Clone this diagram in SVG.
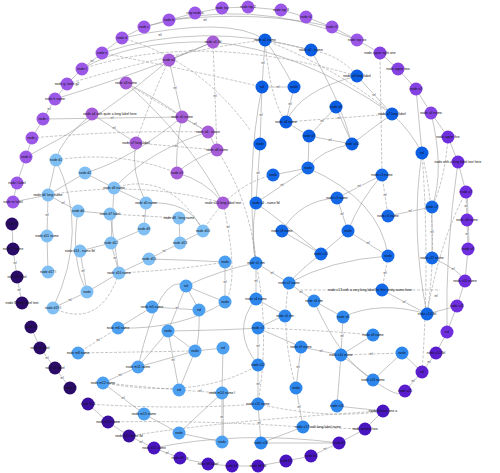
<svg xmlns="http://www.w3.org/2000/svg" width="500" height="473" viewBox="0 0 500 473">
<style>
.e{fill:none;stroke:#8a8a8a;stroke-width:0.5}
.d{fill:none;stroke:#8a8a8a;stroke-width:0.5;stroke-dasharray:3 1.5}
.el{font-family:"Liberation Sans",Arial,sans-serif;font-size:2.8px;fill:#222;text-anchor:middle;stroke:#fff;stroke-width:0.8;paint-order:stroke}
.nl{font-family:"Liberation Sans",Arial,sans-serif;font-size:3.4px;fill:#111;text-anchor:middle}
circle{stroke:none}
.ra{fill:#9b58e8}.rb{fill:#8442e2}.rc{fill:#6e2ede}.rd{fill:#5a1ecf}.rf{fill:#4815c0}.rg{fill:#3a0f9c}.re{fill:#2b0b68}
.oa{fill:#a65dd8}.ba{fill:#0b5de2}.bb{fill:#1468e6}.lb{fill:#80bff3}.mb{fill:#4d9ff0}.mc{fill:#2c86ec}
</style>
<rect width="500" height="473" fill="#fff"/>
<g id="edges">
<path class="e" d="M195,13L169,20L144,27L122,38L102,53L82,69L67,84L55,99L43,119L32,138L26,157L17,183L13,202"/>
<path class="e" d="M195,13L222,8L248,7L281,10L306,17L332,27L357,40L380,53L398,69L416,89L431,113L448,137L458,162L466,192L467,220L468,249L465,281L457,306L447,332L436,353L422,372L405,391"/>
<path class="e" d="M383,411L365,429L339,443L311,456L286,461L258,466L232,466L208,464L180,458L154,448L129,436L108,422L88,404"/>
<path class="e" d="M70,388L55,368L40,348L31,327M22,303L17,277L13,249L12,224"/>
<path class="e" d="M467,220L468,249M466,192L467,220" transform="translate(1.2,0)"/>
<path class="e" d="M102,53Q200,20 311,50"/>
<path class="d" d="M82,69Q200,30 357,76"/>
<path class="e" d="M122,38Q230,15 265,40"/>
<path class="d" d="M67,84Q180,50 265,40"/>
<path class="e" d="M144,27Q250,-5 357,40"/>
<path class="e" d="M169,20Q260,10 332,27"/>
<path class="e" d="M43,119L182,117"/>
<path class="d" d="M32,138Q120,130 208,132"/>
<path class="e" d="M55,99Q150,70 213,42"/>
<path class="e" d="M26,157Q100,120 169,60"/>
<path class="d" d="M102,53Q190,70 262,87"/>
<path class="e" d="M213,42Q300,50 392,114"/>
<path class="d" d="M265,40Q340,70 392,114"/>
<path class="e" d="M82,69Q130,40 213,42"/>
<path class="d" d="M122,38Q200,60 250,130"/>
<path class="d" d="M213,42L217,150"/>
<path class="e" d="M213,42L169,60"/>
<path class="e" d="M169,60L182,117"/>
<path class="d" d="M169,60Q150,100 136,143"/>
<path class="e" d="M126,83Q160,100 182,117"/>
<path class="d" d="M126,83Q170,110 208,132"/>
<path class="e" d="M92,114L136,143"/>
<path class="e" d="M182,117L208,132"/>
<path class="d" d="M136,143L217,150"/>
<path class="e" d="M208,132L217,150"/>
<path class="e" d="M217,150Q190,160 177,173"/>
<path class="e" d="M177,173Q205,180 223,203"/>
<path class="e" d="M182,117Q175,150 177,173"/>
<path class="e" d="M136,143Q130,170 146,203"/>
<path class="e" d="M92,114Q60,140 56,160"/>
<path class="e" d="M126,83Q190,140 223,203"/>
<path class="e" d="M265,40L262,87"/>
<path class="d" d="M265,40L311,50"/>
<path class="e" d="M265,40Q280,60 294,87"/>
<path class="d" d="M265,40Q270,100 286,122"/>
<path class="e" d="M262,87L294,87"/>
<path class="e" d="M262,87L260,144"/>
<path class="e" d="M294,87L286,122"/>
<path class="d" d="M311,50Q340,55 357,76"/>
<path class="e" d="M311,50Q340,100 352,144"/>
<path class="e" d="M357,76L392,114"/>
<path class="e" d="M357,76Q300,90 286,122"/>
<path class="e" d="M336,107L309,136"/>
<path class="e" d="M336,107L352,144"/>
<path class="d" d="M286,122L392,114"/>
<path class="e" d="M286,122L309,136"/>
<path class="e" d="M309,136L352,144"/>
<path class="e" d="M392,114Q370,130 352,144"/>
<path class="e" d="M392,114Q410,130 422,153"/>
<path class="e" d="M260,144L256,203"/>
<path class="e" d="M352,144Q320,150 308,168"/>
<path class="e" d="M309,136L308,168"/>
<path class="d" d="M380,53L382,175"/>
<path class="e" d="M416,89L422,153"/>
<path class="d" d="M448,137Q445,180 432,207"/>
<path class="e" d="M431,113Q445,170 432,207"/>
<path class="e" d="M308,168L256,203"/>
<path class="e" d="M308,168L273,175"/>
<path class="e" d="M382,175L337,198"/>
<path class="d" d="M382,175L388,216"/>
<path class="e" d="M337,198L348,231"/>
<path class="e" d="M282,231L321,254"/>
<path class="e" d="M348,231L321,254"/>
<path class="e" d="M348,231L388,256"/>
<path class="e" d="M348,231Q360,200 382,175"/>
<path class="e" d="M388,216L432,207"/>
<path class="d" d="M388,256L382,290"/>
<path class="e" d="M432,207L432,258"/>
<path class="e" d="M382,290L427,314"/>
<path class="e" d="M321,254Q300,270 289,283"/>
<path class="d" d="M422,153Q440,230 427,314"/>
<path class="e" d="M422,153Q410,230 427,314"/>
<path class="e" d="M337,198Q300,200 282,231"/>
<path class="e" d="M256,203Q280,220 321,254"/>
<path class="d" d="M273,175Q230,185 203,231"/>
<path class="e" d="M308,168Q380,200 388,256"/>
<path class="d" d="M300,290L440,290"/>
<path class="e" d="M432,258Q460,270 465,281"/>
<path class="e" d="M457,306L427,314"/>
<path class="d" d="M466,192Q440,240 427,314"/>
<path class="e" d="M458,162Q445,250 447,332"/>
<path class="d" d="M422,153Q430,260 422,372"/>
<path class="e" d="M56,160L48,195"/>
<path class="e" d="M85,173L114,188"/>
<path class="e" d="M85,173L48,195"/>
<path class="e" d="M114,188L146,203"/>
<path class="e" d="M114,188L111,243"/>
<path class="e" d="M48,195L78,211"/>
<path class="e" d="M78,211L110,214"/>
<path class="d" d="M110,214L179,218"/>
<path class="e" d="M146,203L144,229"/>
<path class="e" d="M144,229L111,243"/>
<path class="e" d="M179,218L180,243"/>
<path class="e" d="M203,231L180,243"/>
<path class="e" d="M180,243L149,259"/>
<path class="e" d="M111,243L119,273"/>
<path class="e" d="M80,251L87,292"/>
<path class="e" d="M80,251L111,243"/>
<path class="e" d="M48,195L47,236"/>
<path class="e" d="M119,273L149,259"/>
<path class="e" d="M87,292L119,273"/>
<path class="e" d="M53,308L87,292"/>
<path class="d" d="M56,160Q120,150 177,173"/>
<path class="d" d="M48,195Q140,180 223,203"/>
<path class="e" d="M78,211Q70,260 87,292"/>
<path class="e" d="M110,214L119,273"/>
<path class="e" d="M13,202L48,195"/>
<path class="d" d="M114,188Q170,170 203,231"/>
<path class="e" d="M146,203Q190,200 203,231"/>
<path class="d" d="M119,273Q180,270 225,262"/>
<path class="e" d="M149,259Q190,260 225,262"/>
<path class="e" d="M47,236L48,272"/>
<path class="e" d="M85,173Q130,160 182,117"/>
<path class="e" d="M114,188Q150,150 208,132"/>
<path class="e" d="M56,160Q90,230 53,308"/>
<path class="d" d="M119,273Q100,330 53,308"/>
<path class="e" d="M225,262L225,302"/>
<path class="e" d="M186,286L225,302"/>
<path class="e" d="M186,286L168,331"/>
<path class="e" d="M199,310L152,307"/>
<path class="e" d="M186,286L199,310"/>
<path class="e" d="M168,331L138,367"/>
<path class="e" d="M168,331L179,390"/>
<path class="d" d="M118,328L78,353"/>
<path class="e" d="M195,351L179,390"/>
<path class="e" d="M195,351L138,367"/>
<path class="e" d="M223,348L222,393"/>
<path class="e" d="M138,367L103,383"/>
<path class="d" d="M103,383L179,390"/>
<path class="e" d="M103,383L144,414"/>
<path class="d" d="M179,390L222,393"/>
<path class="e" d="M222,393L179,433"/>
<path class="e" d="M179,433L222,442"/>
<path class="e" d="M222,393L222,442M223.3,393L223.3,442"/>
<path class="e" d="M144,414L179,433"/>
<path class="d" d="M78,353L195,351"/>
<path class="e" d="M118,328Q180,330 225,302"/>
<path class="e" d="M168,331Q230,330 258,328"/>
<path class="e" d="M186,286Q220,270 256,263"/>
<path class="e" d="M152,307L118,328"/>
<path class="e" d="M195,351L223,348"/>
<path class="e" d="M168,331L195,351"/>
<path class="e" d="M199,310Q200,340 195,351"/>
<path class="d" d="M88,404Q180,410 258,404"/>
<path class="d" d="M103,383Q200,400 258,365"/>
<path class="d" d="M108,422Q200,420 303,427"/>
<path class="d" d="M129,436Q230,420 383,411"/>
<path class="e" d="M154,448Q240,430 339,443"/>
<path class="e" d="M138,367Q160,270 186,286"/>
<path class="e" d="M256,263L256,299"/>
<path class="e" d="M256,263L289,283"/>
<path class="e" d="M289,283L314,301"/>
<path class="e" d="M256,299L285,315"/>
<path class="e" d="M314,301L343,317"/>
<path class="e" d="M285,315L258,328"/>
<path class="e" d="M258,328L258,365"/>
<path class="e" d="M258,328L301,347"/>
<path class="e" d="M301,347L341,355"/>
<path class="e" d="M341,355L373,335"/>
<path class="e" d="M343,317L341,355"/>
<path class="e" d="M301,347L296,388"/>
<path class="e" d="M258,365L258,404"/>
<path class="e" d="M341,355L373,380"/>
<path class="e" d="M296,388L303,427"/>
<path class="e" d="M337,406L341,355"/>
<path class="e" d="M258,404L261,443"/>
<path class="e" d="M303,427L261,443"/>
<path class="d" d="M341,355L402,353"/>
<path class="e" d="M373,380L402,353"/>
<path class="e" d="M256,299Q230,330 258,365"/>
<path class="d" d="M289,283Q280,330 296,388"/>
<path class="e" d="M314,301Q340,360 373,380"/>
<path class="d" d="M256,263Q270,330 258,404"/>
<path class="d" d="M258,328Q320,330 373,335"/>
<path class="e" d="M261,443L339,443"/>
<path class="d" d="M303,427L365,429"/>
<path class="e" d="M337,406L383,411"/>
<path class="e" d="M373,380Q400,400 405,391"/>
<path class="e" d="M402,353L422,372"/>
<path class="d" d="M258,404Q330,420 383,411"/>
<path class="e" d="M289,283Q330,260 388,256"/>
<path class="e" d="M343,317Q380,300 427,314"/>
<path class="e" d="M256,203Q250,240 256,263"/>
<path class="d" d="M217,150Q250,200 256,263"/>
<path class="e" d="M262,87Q245,170 256,263"/>
<path class="d" d="M223,203Q240,280 225,302"/>
</g>
<g id="edge-labels">
<text class="el" x="112" y="119">rel</text><text class="el" x="191" y="52">rel</text><text class="el" x="175" y="89">rel</text>
<text class="el" x="114" y="129">rel</text><text class="el" x="195" y="125">rel</text><text class="el" x="176" y="147">rel</text>
<text class="el" x="215" y="97">rel</text><text class="el" x="263" y="64">rel</text><text class="el" x="278" y="88">rel</text>
<text class="el" x="261" y="116">rel</text><text class="el" x="290" y="105">rel</text><text class="el" x="374" y="96">rel</text>
<text class="el" x="322" y="122">rel</text><text class="el" x="339" y="119">rel</text><text class="el" x="330" y="141">rel</text>
<text class="el" x="258" y="174">rel</text><text class="el" x="282" y="186">rel</text><text class="el" x="359" y="187">rel</text>
<text class="el" x="385" y="196">rel</text><text class="el" x="342" y="215">rel</text><text class="el" x="368" y="244">rel</text>
<text class="el" x="410" y="212">rel</text><text class="el" x="385" y="274">rel</text><text class="el" x="432" y="233">rel</text>
<text class="el" x="404" y="303">rel</text><text class="el" x="63" y="204">rel</text><text class="el" x="144" y="217">rel</text>
<text class="el" x="164" y="252">rel</text><text class="el" x="115" y="259">rel</text><text class="el" x="83" y="272">rel</text>
<text class="el" x="70" y="301">rel</text><text class="el" x="47" y="216">rel</text><text class="el" x="225" y="283">rel</text>
<text class="el" x="177" y="309">rel</text><text class="el" x="173" y="361">rel</text><text class="el" x="98" y="341">rel</text>
<text class="el" x="120" y="376">rel</text><text class="el" x="123" y="399">rel</text><text class="el" x="222" y="418">rel</text>
<text class="el" x="200" y="392">rel</text><text class="el" x="256" y="282">rel</text><text class="el" x="272" y="274">rel</text>
<text class="el" x="301" y="293">rel</text><text class="el" x="258" y="347">rel</text><text class="el" x="321" y="352">rel</text>
<text class="el" x="342" y="337">rel</text><text class="el" x="258" y="385">rel</text><text class="el" x="298" y="368">rel</text>
<text class="el" x="299" y="408">rel</text><text class="el" x="371" y="355">rel</text><text class="el" x="259" y="424">rel</text>
<text class="el" x="92" y="62">rel</text><text class="el" x="49" y="110">rel</text><text class="el" x="15" y="264">rel</text>
<text class="el" x="19" y="291">rel</text><text class="el" x="47" y="359">rel</text><text class="el" x="62" y="379">rel</text>
<text class="el" x="466" y="207">rel</text><text class="el" x="467" y="235">rel</text><text class="el" x="413" y="382">rel</text>
<text class="el" x="429" y="363">rel</text><text class="el" x="141" y="443">rel</text><text class="el" x="167" y="454">rel</text>
<text class="el" x="325" y="450">rel</text><text class="el" x="205" y="21">rel</text><text class="el" x="160" y="36">rel</text>
<text class="el" x="228" y="228">rel</text><text class="el" x="436" y="297">rel</text><text class="el" x="453" y="270">rel</text>
</g>
<g id="ring">
<g id="r1"><circle class="ra" cx="195" cy="13" r="6.5"/><text class="nl" x="195" y="14">ring node a</text></g>
<g id="r2"><circle class="ra" cx="169" cy="20" r="6.5"/><text class="nl" x="169" y="21">node b</text></g>
<g id="r3"><circle class="ra" cx="144" cy="27" r="6.5"/><text class="nl" x="144" y="28">node c</text></g>
<g id="r4"><circle class="ra" cx="122" cy="38" r="6.5"/><text class="nl" x="122" y="39">node d</text></g>
<g id="r5"><circle class="ra" cx="102" cy="53" r="6.5"/><text class="nl" x="102" y="54">node e</text></g>
<g id="r6"><circle class="ra" cx="82" cy="69" r="6.5"/><text class="nl" x="82" y="70">node f</text></g>
<g id="r7"><circle class="ra" cx="67" cy="84" r="6.5"/><text class="nl" x="67" y="85">node g, node g2</text></g>
<g id="r8"><circle class="ra" cx="55" cy="99" r="6.5"/><text class="nl" x="55" y="100">node h name</text></g>
<g id="r9"><circle class="ra" cx="43" cy="119" r="6.5"/><text class="nl" x="43" y="120">node i</text></g>
<g id="r10"><circle class="ra" cx="32" cy="138" r="6.5"/><text class="nl" x="32" y="139">node j</text></g>
<g id="r11"><circle class="ra" cx="26" cy="157" r="6.5"/><text class="nl" x="26" y="158">node k</text></g>
<g id="r12"><circle class="ra" cx="17" cy="183" r="6.5"/><text class="nl" x="17" y="184">node l label</text></g>
<g id="r13"><circle class="ra" cx="13" cy="202" r="6.5"/><text class="nl" x="13" y="203">node m label</text></g>
<g id="t1"><circle class="ra" cx="222" cy="8" r="6.5"/><text class="nl" x="222" y="9">node top</text></g>
<g id="t2"><circle class="ra" cx="248" cy="7" r="6.5"/><text class="nl" x="248" y="8">node top 2</text></g>
<g id="t3"><circle class="ra" cx="281" cy="10" r="6.5"/><text class="nl" x="281" y="11">node top 3</text></g>
<g id="t4"><circle class="ra" cx="306" cy="17" r="6.5"/><text class="nl" x="306" y="18">node t4</text></g>
<g id="t5"><circle class="ra" cx="332" cy="27" r="6.5"/><text class="nl" x="332" y="28">node t5</text></g>
<g id="t6"><circle class="ra" cx="357" cy="40" r="6.5"/><text class="nl" x="357" y="41">node top six</text></g>
<g id="u1"><circle class="rb" cx="380" cy="53" r="6.5"/><text class="nl" x="380" y="54">node upper right one</text></g>
<g id="u2"><circle class="rb" cx="398" cy="69" r="6.5"/><text class="nl" x="398" y="70">node upper two</text></g>
<g id="u3"><circle class="rb" cx="416" cy="89" r="6.5"/><text class="nl" x="416" y="90">node u3</text></g>
<g id="u4"><circle class="rb" cx="431" cy="113" r="6.5"/><text class="nl" x="431" y="114">node u4 name</text></g>
<g id="u5"><circle class="rc" cx="448" cy="137" r="6.5"/><text class="nl" x="448" y="138">node upper five</text></g>
<g id="u6"><circle class="rc" cx="458" cy="162" r="6.5"/><text class="nl" x="458" y="163">node with a long label text here</text></g>
<g id="u7"><circle class="rc" cx="466" cy="192" r="6.5"/><text class="nl" x="466" y="193">node u7</text></g>
<g id="u8"><circle class="rc" cx="467" cy="220" r="6.5"/><text class="nl" x="467" y="221">node u8 name</text></g>
<g id="u9"><circle class="rc" cx="468" cy="249" r="6.5"/><text class="nl" x="468" y="250">node u9</text></g>
<g id="u10"><circle class="rc" cx="465" cy="281" r="6.5"/><text class="nl" x="465" y="282">node u10 name</text></g>
<g id="u11"><circle class="rc" cx="457" cy="306" r="6.5"/><text class="nl" x="457" y="307">node u11</text></g>
<g id="u12"><circle class="rc" cx="447" cy="332" r="6.5"/><text class="nl" x="447" y="333">nd</text></g>
<g id="u13"><circle class="rd" cx="436" cy="353" r="6.5"/><text class="nl" x="436" y="354">node u13 lbl</text></g>
<g id="u14"><circle class="rd" cx="422" cy="372" r="6.5"/><text class="nl" x="422" y="373">nd</text></g>
<g id="u15"><circle class="rd" cx="405" cy="391" r="6.5"/><text class="nl" x="405" y="392">node u15</text></g>
<g id="b1"><circle class="rf" cx="383" cy="411" r="6.5"/><text class="nl" x="383" y="412">node bottom one a</text></g>
<g id="b2"><circle class="rf" cx="365" cy="429" r="6.5"/><text class="nl" x="365" y="430">node bottom two</text></g>
<g id="b3"><circle class="rf" cx="339" cy="443" r="6.5"/><text class="nl" x="339" y="444">node b3</text></g>
<g id="b4"><circle class="rf" cx="311" cy="456" r="6.5"/><text class="nl" x="311" y="457">node b4</text></g>
<g id="b5"><circle class="rf" cx="286" cy="461" r="6.5"/><text class="nl" x="286" y="462">node b5</text></g>
<g id="b6"><circle class="rf" cx="258" cy="466" r="6.5"/><text class="nl" x="258" y="467">node b6 lbl</text></g>
<g id="b7"><circle class="rf" cx="232" cy="466" r="6.5"/><text class="nl" x="232" y="467">node b7</text></g>
<g id="b8"><circle class="rf" cx="208" cy="464" r="6.5"/><text class="nl" x="208" y="465">node b8 label</text></g>
<g id="b9"><circle class="rf" cx="180" cy="458" r="6.5"/><text class="nl" x="180" y="459">node b9 . a</text></g>
<g id="b10"><circle class="rf" cx="154" cy="448" r="6.5"/><text class="nl" x="154" y="449">node b10 name</text></g>
<g id="b11"><circle class="rg" cx="129" cy="436" r="6.5"/><text class="nl" x="129" y="437">node b11 name lbl</text></g>
<g id="b12"><circle class="rg" cx="108" cy="422" r="6.5"/><text class="nl" x="108" y="423">node b12 name</text></g>
<g id="b13"><circle class="rg" cx="88" cy="404" r="6.5"/><text class="nl" x="88" y="405">node b13</text></g>
<g id="l1"><circle class="re" cx="70" cy="388" r="6.5"/><text class="nl" x="70" y="389">node l1</text></g>
<g id="l2"><circle class="re" cx="55" cy="368" r="6.5"/><text class="nl" x="55" y="369">node l2 label</text></g>
<g id="l3"><circle class="re" cx="40" cy="348" r="6.5"/><text class="nl" x="40" y="349">node l3 label</text></g>
<g id="l4"><circle class="re" cx="31" cy="327" r="6.5"/><text class="nl" x="31" y="328">node l4</text></g>
<g id="l5"><circle class="re" cx="22" cy="303" r="6.5"/><text class="nl" x="22" y="304">node l5 long label text</text></g>
<g id="l6"><circle class="re" cx="17" cy="277" r="6.5"/><text class="nl" x="17" y="278">node l6 label</text></g>
<g id="l7"><circle class="re" cx="13" cy="249" r="6.5"/><text class="nl" x="13" y="250">node l7 name</text></g>
<g id="l8"><circle class="re" cx="12" cy="224" r="6.5"/><text class="nl" x="12" y="225">node l8</text></g>
</g>
<g id="orchid">
<g id="o1"><circle class="oa" cx="213" cy="42" r="6.5"/><text class="nl" x="213" y="43">node o1 lbl</text></g>
<g id="o2"><circle class="oa" cx="169" cy="60" r="6.5"/><text class="nl" x="169" y="61">node o2</text></g>
<g id="o3"><circle class="oa" cx="126" cy="83" r="6.5"/><text class="nl" x="126" y="84">node o3 name</text></g>
<g id="o4"><circle class="oa" cx="92" cy="114" r="6.5"/><text class="nl" x="110" y="115">node o4 with quite a long label here</text></g>
<g id="o5"><circle class="oa" cx="182" cy="117" r="6.5"/><text class="nl" x="182" y="118">node o5 name</text></g>
<g id="o6"><circle class="oa" cx="208" cy="132" r="6.5"/><text class="nl" x="208" y="133">node o6 . name</text></g>
<g id="o7"><circle class="oa" cx="136" cy="143" r="6.5"/><text class="nl" x="136" y="144">node o7 long label</text></g>
<g id="o8"><circle class="oa" cx="217" cy="150" r="6.5"/><text class="nl" x="217" y="151">node o8 name</text></g>
<g id="o9"><circle class="oa" cx="177" cy="173" r="6.5"/><text class="nl" x="177" y="174">node o9</text></g>
<g id="o10"><circle class="oa" cx="223" cy="203" r="6.5"/><text class="nl" x="223" y="204">node o10 long label text</text></g>
</g>
<g id="blue-top">
<g id="a1"><circle class="ba" cx="265" cy="40" r="6.5"/><text class="nl" x="265" y="41">node a1 name</text></g>
<g id="a2"><circle class="ba" cx="311" cy="50" r="6.5"/><text class="nl" x="311" y="51">node a2 . name</text></g>
<g id="a3"><circle class="ba" cx="357" cy="76" r="6.5"/><text class="nl" x="357" y="77">node a3 long label</text></g>
<g id="a4"><circle class="ba" cx="262" cy="87" r="6.5"/><text class="nl" x="262" y="88">nd</text></g>
<g id="a5"><circle class="ba" cx="294" cy="87" r="6.5"/><text class="nl" x="294" y="88">node</text></g>
<g id="a6"><circle class="ba" cx="336" cy="107" r="6.5"/><text class="nl" x="336" y="108">node a6</text></g>
<g id="a7"><circle class="ba" cx="392" cy="114" r="6.5"/><text class="nl" x="392" y="115">node a7 long label</text></g>
<g id="a8"><circle class="ba" cx="286" cy="122" r="6.5"/><text class="nl" x="286" y="123">node a8 name</text></g>
<g id="a9"><circle class="ba" cx="309" cy="136" r="6.5"/><text class="nl" x="309" y="137">node a9</text></g>
<g id="a10"><circle class="ba" cx="352" cy="144" r="6.5"/><text class="nl" x="352" y="145">node a10</text></g>
<g id="a11"><circle class="ba" cx="260" cy="144" r="6.5"/><text class="nl" x="260" y="145">node</text></g>
<g id="a12"><circle class="ba" cx="422" cy="153" r="6.5"/><text class="nl" x="422" y="154">nd</text></g>
</g>
<g id="blue-right">
<g id="c1"><circle class="bb" cx="308" cy="168" r="6.5"/><text class="nl" x="308" y="169">node</text></g>
<g id="c2"><circle class="bb" cx="273" cy="175" r="6.5"/><text class="nl" x="273" y="176">node</text></g>
<g id="c3"><circle class="bb" cx="382" cy="175" r="6.5"/><text class="nl" x="382" y="176">node c3 name</text></g>
<g id="c4"><circle class="bb" cx="256" cy="203" r="6.5"/><text class="nl" x="266" y="204">node c4 . name lbl</text></g>
<g id="c5"><circle class="bb" cx="337" cy="198" r="6.5"/><text class="nl" x="337" y="199">node c5 name</text></g>
<g id="c6"><circle class="bb" cx="388" cy="216" r="6.5"/><text class="nl" x="388" y="217">node c6 name</text></g>
<g id="c7"><circle class="bb" cx="432" cy="207" r="6.5"/><text class="nl" x="432" y="208">node c7</text></g>
<g id="c8"><circle class="bb" cx="282" cy="231" r="6.5"/><text class="nl" x="282" y="232">node c8 name</text></g>
<g id="c9"><circle class="bb" cx="348" cy="231" r="6.5"/><text class="nl" x="348" y="232">node</text></g>
<g id="c10"><circle class="bb" cx="321" cy="254" r="6.5"/><text class="nl" x="321" y="255">node c10</text></g>
<g id="c11"><circle class="bb" cx="388" cy="256" r="6.5"/><text class="nl" x="388" y="257">node</text></g>
<g id="c12"><circle class="bb" cx="432" cy="258" r="6.5"/><text class="nl" x="432" y="259">node c12 name</text></g>
<g id="c13"><circle class="bb" cx="382" cy="290" r="6.5"/><text class="nl" x="370" y="291">node c13 with a very long label for this entity name here</text></g>
<g id="c14"><circle class="bb" cx="427" cy="314" r="6.5"/><text class="nl" x="427" y="315">node c14 lbl</text></g>
</g>
<g id="lightblue">
<g id="d1"><circle class="lb" cx="56" cy="160" r="6.5"/><text class="nl" x="56" y="161">node d1</text></g>
<g id="d2"><circle class="lb" cx="85" cy="173" r="6.5"/><text class="nl" x="85" y="174">node d2</text></g>
<g id="d3"><circle class="lb" cx="114" cy="188" r="6.5"/><text class="nl" x="114" y="189">node d3 name</text></g>
<g id="d4"><circle class="lb" cx="48" cy="195" r="6.5"/><text class="nl" x="48" y="196">node d4 long name</text></g>
<g id="d5"><circle class="lb" cx="146" cy="203" r="6.5"/><text class="nl" x="146" y="204">node d5 name</text></g>
<g id="d6"><circle class="lb" cx="78" cy="211" r="6.5"/><text class="nl" x="78" y="212">node d6</text></g>
<g id="d7"><circle class="lb" cx="110" cy="214" r="6.5"/><text class="nl" x="110" y="215">node d7 label</text></g>
<g id="d8"><circle class="lb" cx="179" cy="218" r="6.5"/><text class="nl" x="179" y="219">node d8 . long name</text></g>
<g id="d9"><circle class="lb" cx="144" cy="229" r="6.5"/><text class="nl" x="144" y="230">node d9</text></g>
<g id="d10"><circle class="lb" cx="203" cy="231" r="6.5"/><text class="nl" x="203" y="232">node d10</text></g>
<g id="d11"><circle class="lb" cx="47" cy="236" r="6.5"/><text class="nl" x="47" y="237">node d11 name</text></g>
<g id="d12"><circle class="lb" cx="111" cy="243" r="6.5"/><text class="nl" x="111" y="244">node d12</text></g>
<g id="d13"><circle class="lb" cx="180" cy="243" r="6.5"/><text class="nl" x="180" y="244">node d13</text></g>
<g id="d14"><circle class="lb" cx="80" cy="251" r="6.5"/><text class="nl" x="80" y="252">node d14 . name lbl</text></g>
<g id="d15"><circle class="lb" cx="149" cy="259" r="6.5"/><text class="nl" x="149" y="260">node d15</text></g>
<g id="d16"><circle class="lb" cx="119" cy="273" r="6.5"/><text class="nl" x="119" y="274">node d16 name</text></g>
<g id="d17"><circle class="lb" cx="48" cy="272" r="6.5"/><text class="nl" x="48" y="273">node d17 l</text></g>
<g id="d18"><circle class="lb" cx="87" cy="292" r="6.5"/><text class="nl" x="87" y="293">node</text></g>
<g id="d19"><circle class="lb" cx="53" cy="308" r="6.5"/><text class="nl" x="53" y="309">node d19 l</text></g>
</g>
<g id="midblue">
<g id="m1"><circle class="mb" cx="225" cy="262" r="6.5"/><text class="nl" x="225" y="263">node</text></g>
<g id="m2"><circle class="mb" cx="186" cy="286" r="6.5"/><text class="nl" x="186" y="287">nd</text></g>
<g id="m3"><circle class="mb" cx="225" cy="302" r="6.5"/><text class="nl" x="225" y="303">node</text></g>
<g id="m4"><circle class="mb" cx="199" cy="310" r="6.5"/><text class="nl" x="199" y="311">nd</text></g>
<g id="m5"><circle class="mb" cx="152" cy="307" r="6.5"/><text class="nl" x="152" y="308">node m5 name</text></g>
<g id="m6"><circle class="mb" cx="118" cy="328" r="6.5"/><text class="nl" x="118" y="329">node m6 name</text></g>
<g id="m7"><circle class="mb" cx="168" cy="331" r="6.5"/><text class="nl" x="168" y="332">node</text></g>
<g id="m8"><circle class="mb" cx="78" cy="353" r="6.5"/><text class="nl" x="78" y="354">node m8 name</text></g>
<g id="m9"><circle class="mb" cx="195" cy="351" r="6.5"/><text class="nl" x="195" y="352">node</text></g>
<g id="m10"><circle class="mb" cx="223" cy="348" r="6.5"/><text class="nl" x="223" y="349">nd</text></g>
<g id="m11"><circle class="mb" cx="138" cy="367" r="6.5"/><text class="nl" x="138" y="368">node m11 name</text></g>
<g id="m12"><circle class="mb" cx="103" cy="383" r="6.5"/><text class="nl" x="103" y="384">node m12 name</text></g>
<g id="m13"><circle class="mb" cx="179" cy="390" r="6.5"/><text class="nl" x="179" y="391">nd</text></g>
<g id="m14"><circle class="mb" cx="222" cy="393" r="6.5"/><text class="nl" x="222" y="394">node m14 name l</text></g>
<g id="m15"><circle class="mb" cx="144" cy="414" r="6.5"/><text class="nl" x="144" y="415">node m15 name</text></g>
<g id="m16"><circle class="mb" cx="179" cy="433" r="6.5"/><text class="nl" x="179" y="434">node</text></g>
<g id="m17"><circle class="mb" cx="222" cy="442" r="6.5"/><text class="nl" x="222" y="443">node</text></g>
</g>
<g id="blue-bottom">
<g id="s1"><circle class="mc" cx="256" cy="263" r="6.5"/><text class="nl" x="256" y="264">node s1 nm</text></g>
<g id="s2"><circle class="mc" cx="289" cy="283" r="6.5"/><text class="nl" x="289" y="284">node s2 name</text></g>
<g id="s3"><circle class="mc" cx="314" cy="301" r="6.5"/><text class="nl" x="314" y="302">node s3 nm</text></g>
<g id="s4"><circle class="mc" cx="256" cy="299" r="6.5"/><text class="nl" x="256" y="300">node s4 name</text></g>
<g id="s5"><circle class="mc" cx="285" cy="316" r="6.5"/><text class="nl" x="285" y="317">node s5 nm</text></g>
<g id="s6"><circle class="mc" cx="343" cy="317" r="6.5"/><text class="nl" x="343" y="318">node s6</text></g>
<g id="s7"><circle class="mc" cx="258" cy="328" r="6.5"/><text class="nl" x="258" y="329">node s7</text></g>
<g id="s8"><circle class="mc" cx="373" cy="335" r="6.5"/><text class="nl" x="373" y="336">node s8 name</text></g>
<g id="s9"><circle class="mc" cx="301" cy="347" r="6.5"/><text class="nl" x="301" y="348">node s9 name</text></g>
<g id="s10"><circle class="mc" cx="341" cy="355" r="6.5"/><text class="nl" x="341" y="356">node s10 name</text></g>
<g id="s11"><circle class="mc" cx="402" cy="353" r="6.5"/><text class="nl" x="402" y="354">node</text></g>
<g id="s12"><circle class="mc" cx="258" cy="365" r="6.5"/><text class="nl" x="258" y="366">node s12</text></g>
<g id="s13"><circle class="mc" cx="373" cy="380" r="6.5"/><text class="nl" x="373" y="381">node s13 name</text></g>
<g id="s14"><circle class="mc" cx="296" cy="388" r="6.5"/><text class="nl" x="296" y="389">node</text></g>
<g id="s15"><circle class="mc" cx="258" cy="404" r="6.5"/><text class="nl" x="258" y="405">node s15 name</text></g>
<g id="s16"><circle class="mc" cx="337" cy="406" r="6.5"/><text class="nl" x="337" y="407">node s16</text></g>
<g id="s17"><circle class="mc" cx="303" cy="427" r="6.5"/><text class="nl" x="318" y="428">node s17 with long label name</text></g>
<g id="s18"><circle class="mc" cx="261" cy="443" r="6.5"/><text class="nl" x="261" y="444">node s18</text></g>
</g>
</svg>
